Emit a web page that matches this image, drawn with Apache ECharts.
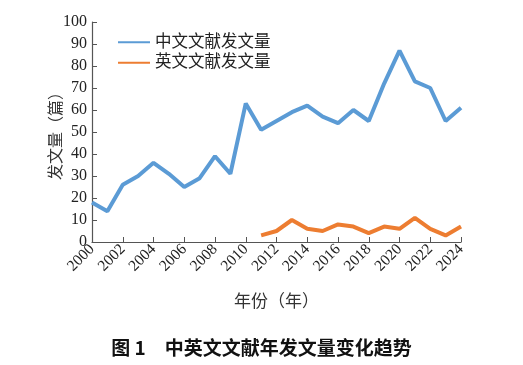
<!DOCTYPE html>
<html>
<head>
<meta charset="utf-8">
<script src="https://cdn.jsdelivr.net/npm/echarts@6/dist/echarts.min.js"></script>
<style>
html,body{margin:0;padding:0;background:#fff;}
#chart{width:523px;height:365px;}
</style>
</head>
<body>
<div id="chart"></div>
<script>
const years = ['2000','2001','2002','2003','2004','2005','2006','2007','2008','2009','2010','2011','2012','2013','2014','2015','2016','2017','2018','2019','2020','2021','2022','2023','2024'];
const chineseCounts = [18,14,26,30,36,31,25,29,39,31,63,51,55,59,62,57,54,60,55,72,87,73,70,55,61];
const englishCounts = [null,null,null,null,null,null,null,null,null,null,null,3,5,10,6,5,8,7,4,7,6,11,6,3,7];
const yTicks = {min:0, max:100, interval:10};
const seriesNames = ['中文文献发文量','英文文献发文量'];

const serif = '"Liberation Serif","Noto Sans CJK SC",serif';
const chart = echarts.init(document.getElementById('chart'));
chart.setOption({
  animation:false,
  backgroundColor:'#fff',
  title:{
    text:'图 1　中英文文献年发文量变化趋势',
    left:'center', top:333,
    textStyle:{fontFamily:'"Noto Sans CJK SC",sans-serif', fontSize:19, fontWeight:'bold', color:'#111'}
  },
  legend:{
    orient:'vertical', left:113, top:29, itemGap:4,
    itemWidth:32, itemHeight:14,
    icon:'path://M0,6 L32,6 L32,8 L0,8 Z',
    textStyle:{fontFamily:serif, fontSize:16.5, color:'#222'},
    data:seriesNames
  },
  grid:{left:92, right:62, top:22, bottom:123, containLabel:false},
  xAxis:{
    type:'category', data:years, boundaryGap:false,
    name:'年份（年）', nameLocation:'middle', nameGap:52, nameMoveOverlap:false,
    nameTextStyle:{fontFamily:serif, fontSize:17, color:'#333'},
    axisLine:{lineStyle:{color:'#555', width:1.2}},
    axisTick:{inside:true, interval:1, length:5, lineStyle:{color:'#555'}},
    axisLabel:{interval:1, rotate:45, fontFamily:serif, fontSize:15.5, color:'#222', margin:5}
  },
  yAxis:{
    type:'value', min:yTicks.min, max:yTicks.max, interval:yTicks.interval,
    name:'发文量（篇）', nameLocation:'middle', nameGap:27, nameRotate:90, nameMoveOverlap:false,
    nameTextStyle:{fontFamily:serif, fontSize:16, color:'#333'},
    axisLine:{show:true, lineStyle:{color:'#555', width:1.2}},
    axisTick:{show:true, inside:true, length:5, lineStyle:{color:'#555'}},
    splitLine:{show:false},
    axisLabel:{fontFamily:serif, fontSize:16, color:'#222', margin:5}
  },
  series:[
    {name:seriesNames[0], type:'line', data:chineseCounts, symbol:'none',
     lineStyle:{width:4, color:'#5b9bd5'}, itemStyle:{color:'#5b9bd5'}},
    {name:seriesNames[1], type:'line', data:englishCounts, symbol:'none', connectNulls:false,
     lineStyle:{width:4, color:'#ed7d31'}, itemStyle:{color:'#ed7d31'}}
  ]
});
</script>
</body>
</html>
